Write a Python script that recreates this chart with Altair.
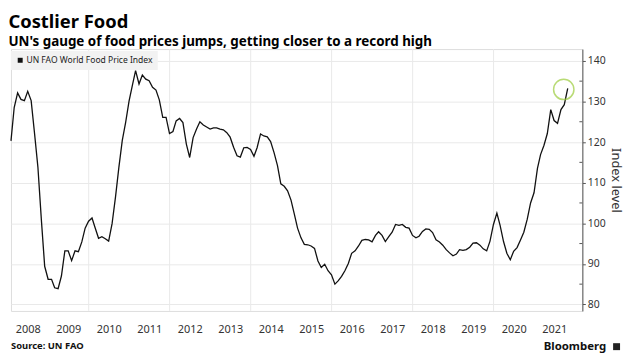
import altair as alt
import pandas as pd

series_name = "UN FAO World Food Price Index"
years = list(range(2008, 2022))

# Monthly index values (month-end), Jan 2008 - Oct 2021
v2008 = [120.3, 128.5, 132.1, 130.5, 130.2, 132.5, 130.2, 122.0, 113.8, 100.9, 89.4, 86.2]
v2009 = [86.2, 84.1, 83.9, 87.0, 93.2, 93.2, 90.8, 93.2, 93.0, 95.4, 98.8, 100.5]
v2010 = [101.3, 98.9, 96.3, 96.7, 96.2, 95.6, 99.9, 106.5, 113.7, 120.4, 124.8, 130.1]
v2011 = [134.1, 137.6, 134.3, 136.5, 135.5, 135.1, 133.5, 132.8, 130.4, 126.1, 126.1, 122.1]
v2012 = [122.6, 125.2, 125.8, 124.8, 119.5, 116.2, 121.1, 123.2, 125.0, 124.2, 123.7, 123.2]
v2013 = [123.5, 123.5, 123.2, 123.0, 122.3, 121.2, 118.7, 116.6, 116.3, 118.6, 118.7, 118.2]
v2014 = [116.5, 118.6, 122.0, 121.5, 121.3, 120.1, 117.4, 114.2, 109.7, 109.1, 108.0, 105.7]
v2015 = [102.1, 98.8, 96.4, 94.8, 94.7, 94.4, 93.8, 90.7, 89.1, 89.9, 88.3, 87.3]
v2016 = [85.0, 85.8, 86.9, 88.3, 90.1, 92.6, 93.2, 94.4, 95.8, 96.0, 95.9, 95.4]
v2017 = [97.0, 97.9, 97.0, 95.5, 96.7, 97.8, 99.7, 99.5, 99.7, 99.0, 98.8, 97.0]
v2018 = [96.4, 96.8, 98.0, 98.6, 98.5, 97.7, 95.9, 95.4, 94.6, 93.5, 92.7, 92.0]
v2019 = [92.4, 93.5, 93.3, 93.5, 94.1, 95.1, 95.2, 94.6, 93.7, 93.2, 95.6, 99.7]
v2020 = [102.5, 99.5, 95.5, 92.6, 91.0, 93.1, 94.0, 95.9, 97.8, 101.0, 105.0, 107.5]
v2021 = [113.5, 116.9, 119.2, 122.1, 128.0, 125.3, 124.6, 128.0, 129.2, 133.2]

values = (v2008 + v2009 + v2010 + v2011 + v2012 + v2013 + v2014 + v2015
          + v2016 + v2017 + v2018 + v2019 + v2020 + v2021)
dates = pd.date_range("2008-01-31", periods=len(values), freq="ME")
df = pd.DataFrame({"date": dates, "value": values, "series": series_name})
last = df.tail(1)

grid_years = [2010, 2012, 2014, 2016, 2018, 2020]
grid_df = pd.DataFrame({"d": [pd.Timestamp(year=y, month=1, day=1) for y in grid_years]})
y_ticks = [80, 90, 100, 110, 120, 130, 140]
minor_ticks = [85, 95, 105, 115, 125, 135]
minor_df = pd.DataFrame({"v": minor_ticks})

FONT = "Noto Sans"
x_scale = alt.Scale(domain=[alt.DateTime(year=2008, month=1, date=31),
                            alt.DateTime(year=2022, month=3, date=12)])
y_scale = alt.Scale(domain=[78.4, 142.9], nice=False, zero=False)

x_axis = alt.Axis(
    values=[alt.DateTime(year=y, month=7, date=1) for y in years],
    format="%Y", grid=False, ticks=False, domain=False, labelPadding=13,
    labelFontSize=11, labelFont=FONT, labelColor="#333", title=None,
    labelFlush=False, labelOverlap=False,
)
y_axis = alt.Axis(
    orient="right", values=y_ticks, grid=True, gridColor="#e9e9e9",
    tickSize=3, tickColor="#555", domainColor="#555", labelPadding=2,
    labelFontSize=10.5, labelFont=FONT, labelColor="#333",
    title="Index level", titleAngle=90, titleFontSize=13, titleFont=FONT,
    titleFontWeight="normal", titleColor="#333", titlePadding=3,
)

grid = alt.Chart(grid_df).mark_rule(color="#e9e9e9", strokeWidth=1).encode(
    x=alt.X("d:T", scale=x_scale, axis=x_axis)
)

line = alt.Chart(df).mark_line(strokeWidth=1.3).encode(
    x=alt.X("date:T", scale=x_scale, axis=x_axis),
    y=alt.Y("value:Q", scale=y_scale, axis=y_axis),
    color=alt.Color(
        "series:N", scale=alt.Scale(range=["#111111"]),
        legend=alt.Legend(
            orient="none", legendX=0, legendY=2, title=None, fillColor="#f2f2f2",
            padding=5, symbolType="square", symbolSize=25, symbolFillColor="#111111",
            symbolStrokeColor="#111111", symbolStrokeWidth=0, labelFontSize=8.6,
            labelFont=FONT, labelColor="#222", labelOffset=2,
        ),
    ),
)

circle = alt.Chart(last).mark_point(
    filled=False, size=420, color="#9ccc3c", strokeWidth=1.5, xOffset=-4, yOffset=1
).encode(x=alt.X("date:T", scale=x_scale), y=alt.Y("value:Q", scale=y_scale))

minor = alt.Chart(minor_df).mark_rule(color="#555", strokeWidth=1).encode(
    y=alt.Y("v:Q", scale=y_scale), x=alt.value(573), x2=alt.value(576)
)

source = alt.Chart(pd.DataFrame({"t": ["Source: UN FAO"]})).mark_text(
    align="left", baseline="middle", font=FONT, fontSize=9.5, fontWeight="bold", color="#111"
).encode(text="t:N", x=alt.value(0), y=alt.value(299))

brand = alt.Chart(pd.DataFrame({"t": ["Bloomberg"]})).mark_text(
    align="right", baseline="middle", font=FONT, fontSize=11.5, fontWeight="bold", color="#111"
).encode(text="t:N", x=alt.value(600), y=alt.value(300))

icon = alt.Chart(pd.DataFrame({"t": ["i"]})).mark_square(size=49, color="#222", opacity=1).encode(
    x=alt.value(610.5), y=alt.value(300)
)

chart = alt.layer(grid, minor, line, circle, source, brand, icon).properties(
    width=576, height=264,
    title=alt.Title(
        "Costlier Food",
        subtitle="UN's gauge of food prices jumps, getting closer to a record high",
        anchor="start", font=FONT, fontSize=18.5, fontWeight="bold", color="#000",
        subtitleFont=FONT, subtitleFontSize=13.5, subtitleFontWeight="bold",
        subtitleColor="#000", subtitlePadding=4, offset=0,
    ),
).configure_view(stroke=None).configure(
    padding={"left": 0, "top": 3, "right": 4, "bottom": 0}
)

chart.save("out.html", embed_options={"renderer": "svg", "actions": False})
